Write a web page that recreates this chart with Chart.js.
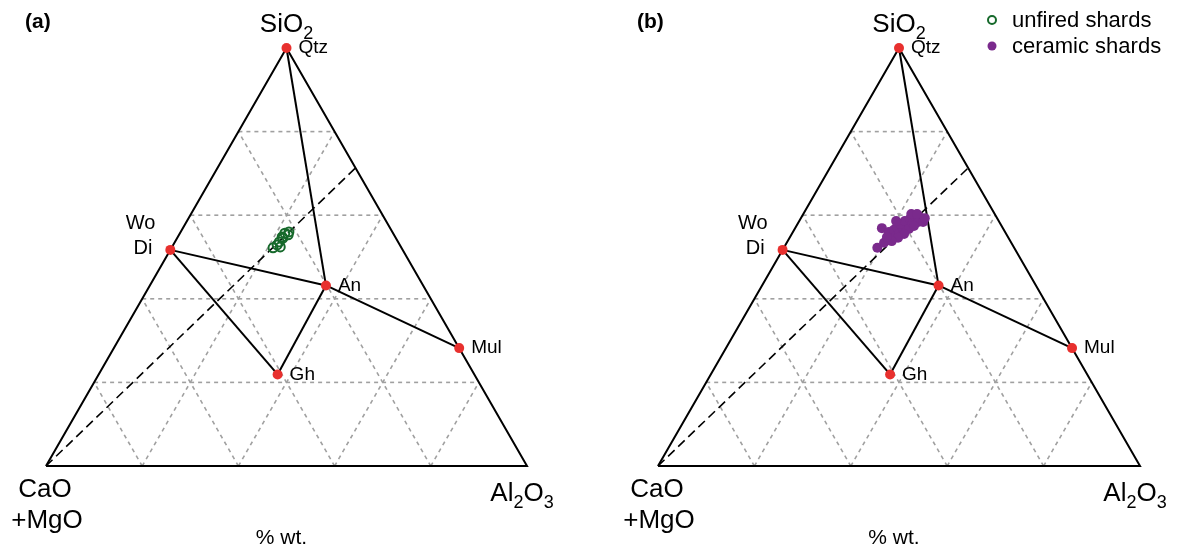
<!DOCTYPE html>
<html>
<head>
<meta charset="utf-8">
<script src="https://cdn.jsdelivr.net/npm/chart.js@4.4.1/dist/chart.umd.min.js"></script>
<style>
  html, body { margin: 0; padding: 0; background: #fff; }
  #wrap { position: relative; width: 1179px; height: 552px; }
  canvas { position: absolute; top: 0; }
  #panel-a { left: 0; }
  #panel-b { left: 590px; }
</style>
</head>
<body>
<div id="wrap">
  <canvas id="panel-a" width="590" height="552"></canvas>
  <canvas id="panel-b" width="589" height="552"></canvas>
</div>
<script>
// Reference minerals (wt. %): SiO2, Al2O3, rest is CaO+MgO
const minerals = ['Qtz', 'Wo', 'An', 'Mul', 'Gh'];
const mineralSiO2 = [100, 51.7, 43.2, 28.2, 21.9];
const mineralAl2O3 = [0, 0, 36.6, 71.8, 37.2];

// tie lines between minerals
const tieLines = [['Qtz', 'An'], ['Wo', 'An'], ['An', 'Mul'], ['Wo', 'Gh'], ['Gh', 'An']];

// dashed line from CaO corner to the SiO2-Al2O3 side
const dashSiO2 = [0, 71.3];
const dashAl2O3 = [0, 28.7];

// grid every 20 %
const gridTicks = [20, 40, 60, 80];

// unfired shards (panel a)
const unfiredSiO2 = [52.2, 52.9, 53.6, 54.8, 55.7, 56.0, 55.3, 52.4, 54.5];
const unfiredAl2O3 = [21.1, 21.6, 21.7, 21.7, 21.8, 22.5, 22.7, 22.5, 22.0];

// ceramic shards (panel b)
const ceramicSiO2 = [56.9, 52.2, 53.4, 54.1, 55.0, 56.0, 56.5, 57.2, 55.0, 55.7, 56.7, 57.4,
  57.9, 58.6, 59.1, 58.1, 56.7, 59.8, 59.6, 59.1, 58.4, 57.4, 58.4, 55.5, 54.6, 53.8,
  54.8, 58.6, 60.3, 60.3, 59.3];
const ceramicAl2O3 = [18.0, 19.4, 20.2, 20.7, 20.8, 19.9, 20.7, 21.0, 21.7, 22.3, 22.5, 22.7,
  21.3, 21.9, 22.7, 23.8, 23.7, 23.4, 24.4, 25.2, 24.8, 24.4, 25.8, 23.3, 22.5, 21.6,
  20.1, 20.1, 22.4, 23.6, 25.7];

const FONT = "'Liberation Sans', Arial, Helvetica, sans-serif";
const RED = '#e8302e';
const GREEN = '#16692b';
const PURPLE = '#7a2a8c';

// ternary (wt. %) -> triangle units (base 0..1, height 0..1)
const toXY = (si, al) => ({ x: al / 100 + si / 200, y: si / 100 });

const lineSet = (pts, extra) => Object.assign({
  type: 'scatter',
  data: pts,
  showLine: true,
  pointRadius: 0,
  pointHoverRadius: 0,
  borderColor: '#000',
  borderWidth: 2,
  clip: false,
  order: 5
}, extra);

const buildDatasets = (shardSi, shardAl, shardStyle) => {
  const sets = [];

  // dotted grid
  gridTicks.forEach((k) => {
    const g = { borderColor: '#a0a0a0', borderWidth: 1.6, borderDash: [4, 4], order: 9 };
    sets.push(lineSet([toXY(k, 0), toXY(k, 100 - k)], g));
    sets.push(lineSet([toXY(0, k), toXY(100 - k, k)], g));
    sets.push(lineSet([toXY(0, 100 - k), toXY(100 - k, 0)], g));
  });

  // triangle outline
  sets.push(lineSet([toXY(0, 0), toXY(0, 100), toXY(100, 0), toXY(0, 0)], { order: 6 }));

  // dashed ratio line
  sets.push(lineSet(dashSiO2.map((s, i) => toXY(s, dashAl2O3[i])),
    { borderWidth: 1.6, borderDash: [9, 5], order: 7 }));

  // tie lines
  tieLines.forEach(([a, b]) => {
    const ia = minerals.indexOf(a);
    const ib = minerals.indexOf(b);
    sets.push(lineSet([
      toXY(mineralSiO2[ia], mineralAl2O3[ia]),
      toXY(mineralSiO2[ib], mineralAl2O3[ib])
    ], {}));
  });

  // shards
  sets.push(Object.assign({
    type: 'scatter',
    data: shardSi.map((s, i) => toXY(s, shardAl[i])),
    clip: false,
    order: 2
  }, shardStyle));

  // mineral points
  sets.push({
    type: 'scatter',
    data: mineralSiO2.map((s, i) => toXY(s, mineralAl2O3[i])),
    pointRadius: 5,
    pointBackgroundColor: RED,
    pointBorderColor: RED,
    pointBorderWidth: 0,
    clip: false,
    order: 1
  });

  return sets;
};

const drawSub = (ctx, parts, x, y, size, align) => {
  // parts: [[text, isSub], ...]
  const subSize = Math.round(size * 0.7);
  let total = 0;
  parts.forEach(([t, sub]) => {
    ctx.font = `${sub ? subSize : size}px ${FONT}`;
    total += ctx.measureText(t).width;
  });
  let cx = align === 'center' ? x - total / 2 : (align === 'right' ? x - total : x);
  ctx.textAlign = 'left';
  ctx.textBaseline = 'alphabetic';
  parts.forEach(([t, sub]) => {
    ctx.font = `${sub ? subSize : size}px ${FONT}`;
    ctx.fillText(t, cx, sub ? y + size * 0.25 : y);
    cx += ctx.measureText(t).width;
  });
};

const labelsPlugin = (panelTag, withLegend) => ({
  id: 'ternaryLabels',
  afterDraw(chart) {
    const { ctx, chartArea, scales } = chart;
    const px = (s, a) => {
      const p = toXY(s, a);
      return { x: scales.x.getPixelForValue(p.x), y: scales.y.getPixelForValue(p.y) };
    };
    ctx.save();
    ctx.fillStyle = '#000';

    // panel tag
    ctx.font = `bold 21px ${FONT}`;
    ctx.textAlign = 'left';
    ctx.textBaseline = 'middle';
    ctx.fillText(panelTag, chartArea.left - 21, 22);

    // corner labels
    const top = px(100, 0);
    drawSub(ctx, [['SiO', false], ['2', true]], top.x, 32, 26, 'center');
    const left = px(0, 0);
    const right = px(0, 100);
    drawSub(ctx, [['Al', false], ['2', true], ['O', false], ['3', true]], right.x - 5, 501, 26, 'center');
    ctx.font = `26px ${FONT}`;
    ctx.textAlign = 'center';
    ctx.textBaseline = 'middle';
    ctx.fillText('CaO', left.x - 1, 490);
    ctx.fillText('+MgO', left.x + 1, 521);
    ctx.font = `21px ${FONT}`;
    ctx.fillText('% wt.', (left.x + right.x) / 2 - 5, 538);

    // mineral labels
    ctx.font = `19px ${FONT}`;
    ctx.textBaseline = 'middle';
    minerals.forEach((m, i) => {
      const p = px(mineralSiO2[i], mineralAl2O3[i]);
      if (m === 'Wo') {
        ctx.font = `20px ${FONT}`;
        ctx.textAlign = 'right';
        ctx.fillText('Wo', p.x - 15, p.y - 26);
        ctx.fillText('Di', p.x - 18, p.y - 1);
        ctx.font = `19px ${FONT}`;
      } else {
        ctx.textAlign = 'left';
        ctx.fillText(m, p.x + 12, p.y);
      }
    });

    // legend
    if (withLegend) {
      const lx = chartArea.right - 148;
      ctx.font = `22px ${FONT}`;
      ctx.textAlign = 'left';
      ctx.textBaseline = 'middle';
      ctx.beginPath();
      ctx.arc(lx, 20, 4, 0, Math.PI * 2);
      ctx.lineWidth = 2;
      ctx.strokeStyle = GREEN;
      ctx.stroke();
      ctx.fillText('unfired shards', lx + 20, 21);
      ctx.beginPath();
      ctx.arc(lx, 46, 4.5, 0, Math.PI * 2);
      ctx.fillStyle = PURPLE;
      ctx.fill();
      ctx.fillStyle = '#000';
      ctx.fillText('ceramic shards', lx + 20, 47);
    }
    ctx.restore();
  }
});

const makePanel = (id, padding, shardSi, shardAl, shardStyle, tag, withLegend) => {
  new Chart(document.getElementById(id), {
    type: 'scatter',
    data: { datasets: buildDatasets(shardSi, shardAl, shardStyle) },
    options: {
      responsive: false,
      animation: false,
      layout: { padding },
      plugins: { legend: { display: false }, tooltip: { enabled: false } },
      scales: {
        x: { type: 'linear', min: 0, max: 1, display: false },
        y: { type: 'linear', min: 0, max: 1, display: false }
      }
    },
    plugins: [labelsPlugin(tag, withLegend)]
  });
};

makePanel('panel-a', { left: 46, right: 63, top: 48, bottom: 86 },
  unfiredSiO2, unfiredAl2O3,
  { pointRadius: 4.5, pointBackgroundColor: 'rgba(0,0,0,0)', pointBorderColor: GREEN, pointBorderWidth: 2 },
  '(a)', false);

makePanel('panel-b', { left: 68, right: 39, top: 48, bottom: 86 },
  ceramicSiO2, ceramicAl2O3,
  { pointRadius: 5, pointBackgroundColor: PURPLE, pointBorderColor: PURPLE, pointBorderWidth: 0 },
  '(b)', true);
</script>
</body>
</html>
